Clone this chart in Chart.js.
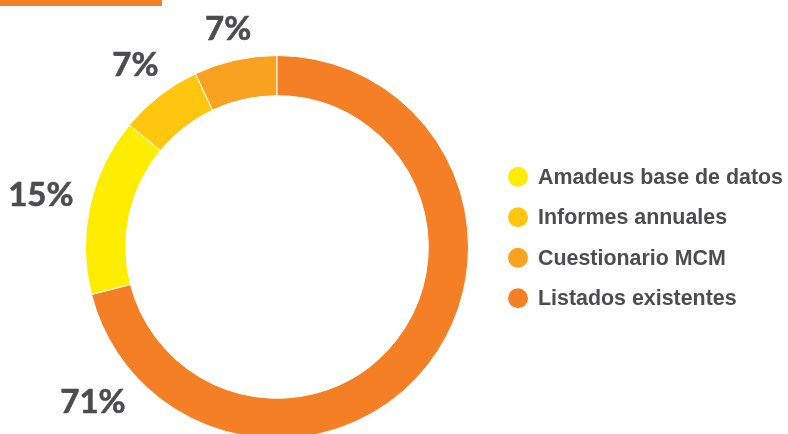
<!DOCTYPE html>
<html>
<head>
<meta charset="utf-8">
<script src="https://cdn.jsdelivr.net/npm/chart.js@4/dist/chart.umd.min.js"></script>
<style>
  html, body { margin: 0; padding: 0; background: #ffffff; overflow: hidden; }
  #wrap { position: relative; width: 788px; height: 444px; }
  #topbar { position: absolute; left: 0; top: 0; width: 162px; height: 6px; background: #F47F24; z-index: 2; }
</style>
</head>
<body>
<div id="wrap">
  <div id="topbar"></div>
  <canvas id="c"></canvas>
</div>
<script>
// ---- data ----
const categories = ['Amadeus base de datos', 'Informes annuales', 'Cuestionario MCM', 'Listados existentes'];
const values = [15, 7, 7, 71];
const valueLabels = ['15%', '7%', '7%', '71%'];
const colors = ['#FFED00', '#FEC60F', '#F9A21F', '#F47F24'];

const TEXT = '#4D4D4F';
const total = values.reduce((a, b) => a + b, 0);
// Listados (last slice) starts at 12 o'clock, the rest follow after it
const startRotation = 360 * values[3] / total;

const labelPlugin = {
  id: 'outerLabels',
  afterDatasetsDraw(chart, args, opts) {
    const ctx = chart.ctx;
    const meta = chart.getDatasetMeta(0);
    ctx.save();
    ctx.font = '700 33px Lato, "Open Sans", sans-serif';
    ctx.fillStyle = TEXT;
    ctx.strokeStyle = TEXT;
    ctx.lineWidth = 0.6;
    ctx.textAlign = 'center';
    ctx.textBaseline = 'alphabetic';
    const capH = 33 * 0.72;
    meta.data.forEach((arc, i) => {
      const p = arc.getProps(['x', 'y', 'startAngle', 'endAngle', 'outerRadius'], true);
      const frac = opts.anchor[i];
      const a = p.startAngle + frac * (p.endAngle - p.startAngle);
      const txt = valueLabels[i];
      const w = ctx.measureText(txt).width;
      const ext = Math.abs(Math.cos(a)) * w / 2 + Math.abs(Math.sin(a)) * capH / 2;
      const r = p.outerRadius + opts.gap + ext;
      const cx = p.x + Math.cos(a) * r;
      const cy = p.y + Math.sin(a) * r;
      ctx.fillText(txt, cx, cy + capH / 2);
      ctx.strokeText(txt, cx, cy + capH / 2);
    });
    ctx.restore();
  }
};

const legendPlugin = {
  id: 'sideLegend',
  afterDraw(chart, args, opts) {
    const ctx = chart.ctx;
    ctx.save();
    ctx.font = 'bold 22px "Liberation Sans Narrow", "Liberation Sans", Arial, sans-serif';
    ctx.textAlign = 'left';
    ctx.textBaseline = 'middle';
    const labels = chart.data.labels;
    const longest = Math.max(...labels.map(l => ctx.measureText(l).width));
    const sx = Math.min(1, opts.maxTextW / longest);
    const n = labels.length;
    const top = opts.centerY - (n - 1) * opts.rowH / 2;
    labels.forEach((lab, i) => {
      const y = top + i * opts.rowH;
      ctx.fillStyle = chart.data.datasets[0].backgroundColor[i];
      ctx.beginPath();
      ctx.arc(opts.x, y, opts.dot, 0, Math.PI * 2);
      ctx.fill();
      ctx.fillStyle = TEXT;
      ctx.save();
      ctx.translate(opts.x + opts.dot + 10, y + 1);
      ctx.scale(sx, 1);
      ctx.fillText(lab, 0, 0);
      ctx.restore();
    });
    ctx.restore();
  }
};

new Chart(document.getElementById('c'), {
  type: 'doughnut',
  data: {
    labels: categories,
    datasets: [{
      data: values,
      backgroundColor: colors,
      borderColor: '#ffffff',
      borderWidth: 1,
      hoverOffset: 0,
      offset: 0
    }]
  },
  options: {
    responsive: true,
    maintainAspectRatio: false,
    animation: false,
    cutout: '79%',
    rotation: startRotation,
    layout: { padding: { left: 85, right: 319, top: 55, bottom: 5 } },
    plugins: {
      legend: { display: false },
      tooltip: { enabled: false },
      outerLabels: { gap: 16, anchor: [0.5, 0.5, 0.5, 0.9] },
      sideLegend: { x: 518, centerY: 237.5, rowH: 40.5, dot: 10, maxTextW: 245 }
    }
  },
  plugins: [labelPlugin, legendPlugin]
});
</script>
</body>
</html>
